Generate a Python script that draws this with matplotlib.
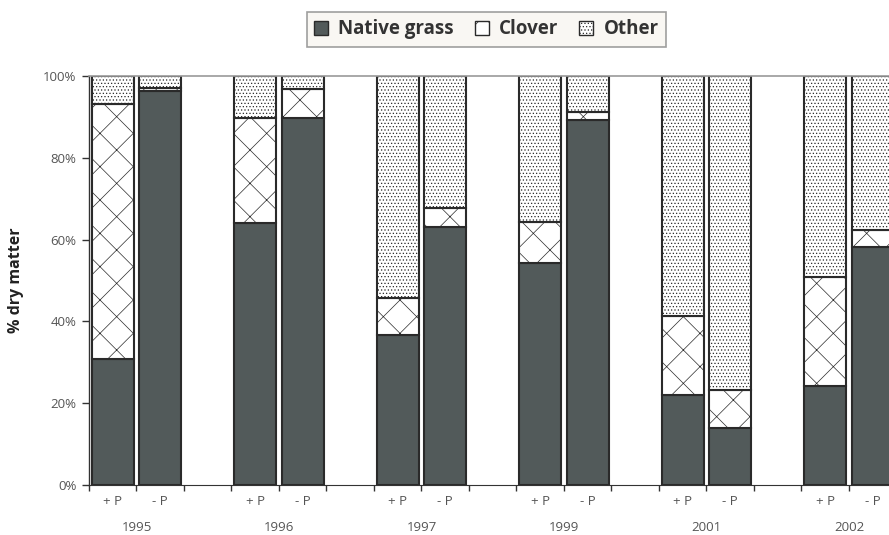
import numpy as np
import matplotlib
matplotlib.use("Agg")
import matplotlib.pyplot as plt
from matplotlib.patches import Patch

plt.rcParams['font.family'] = ['Open Sans', 'DejaVu Sans']
plt.rcParams['hatch.linewidth'] = 0.5

# data (% dry matter)
years = ['1995', '1996', '1997', '1999', '2001', '2002']
treatments = ['+ P', '- P']
native = [30.8, 96.4, 64.0, 89.8, 36.7, 63.0, 54.2, 89.2, 22.0, 13.9, 24.2, 58.3]
clover = [62.4, 0.6, 25.8, 7.0, 8.9, 4.6, 10.2, 2.0, 19.2, 9.2, 26.7, 4.0]
other = [6.8, 3.0, 10.2, 3.2, 54.4, 32.4, 35.6, 8.8, 58.8, 76.9, 49.1, 37.7]

native_col = '#525a5a'
edge = '#2a2a2a'
text_col = '#555555'

# two bars per year, one empty slot between years
pos = []
for i in range(len(years)):
    pos += [i * 3, i * 3 + 1]
pos = np.array(pos)
native = np.array(native)
clover = np.array(clover)
other = np.array(other)

fig = plt.figure(figsize=(8.89, 5.35), dpi=100)
ax = fig.add_axes([0.1001, 0.0935, 0.8999, 0.7645])

w = 0.875
ax.bar(pos, native, w, color=native_col, edgecolor=edge, linewidth=1.5, zorder=2)
ax.bar(pos, clover, w, bottom=native, color='white', edgecolor=edge,
       linewidth=1.5, hatch='/\\', zorder=2)
ax.bar(pos, other, w, bottom=native + clover, color='white', edgecolor=edge,
       linewidth=1.5, hatch='.....', zorder=2)

ax.set_yticks(np.arange(0, 101, 20))
ax.set_yticklabels([f'{v}%' for v in range(0, 101, 20)])
ax.tick_params(axis='y', direction='out', length=5, width=1, color='#333333',
               labelsize=9.5, labelcolor=text_col, pad=4)

ax.set_xticks(pos)
ax.set_xticklabels(treatments * len(years))
ax.set_xticks(np.arange(-0.5, 18, 1), minor=True)
ax.tick_params(axis='x', which='major', length=0, labelsize=9.5,
               labelcolor=text_col, pad=7)
ax.tick_params(axis='x', which='minor', direction='out', length=4, width=1,
               color='#333333')

# limits after the ticks so they are not widened
ax.set_xlim(-0.5, -0.5 + 800 / 47.5)
ax.set_ylim(0, 100)

for i, y in enumerate(years):
    ax.text(i * 3 + 0.5, -10.4, y, ha='center', va='center', fontsize=9.5,
            color=text_col, clip_on=False)

ax.spines['right'].set_visible(False)
ax.spines['top'].set_color('#999999')
ax.spines['top'].set_linewidth(1.2)
ax.spines['left'].set_color('#333333')
ax.spines['bottom'].set_color('#333333')
ax.spines['left'].set_linewidth(1)

ax.set_ylabel('% dry matter', fontsize=11.5, fontweight='bold', color='#222222',
              labelpad=14)

handles = [Patch(facecolor=native_col, edgecolor=edge, label='Native grass'),
           Patch(facecolor='white', edgecolor=edge, hatch='/\\', label='Clover'),
           Patch(facecolor='white', edgecolor=edge, hatch='.....', label='Other')]
leg = fig.legend(handles=handles, loc='center', bbox_to_anchor=(0.547, 0.945),
                 ncol=3, frameon=True, fancybox=False, handlelength=0.75,
                 handleheight=0.75, handletextpad=0.55, columnspacing=1.1,
                 prop={'weight': 'bold', 'size': 13.5}, borderpad=0.4,
                 borderaxespad=0)
leg.get_frame().set_facecolor('#f8f6f0')
leg.get_frame().set_edgecolor('#888888')
leg.get_frame().set_linewidth(1.2)
for t in leg.get_texts():
    t.set_color('#333333')

fig.savefig('out.png', dpi=100)
